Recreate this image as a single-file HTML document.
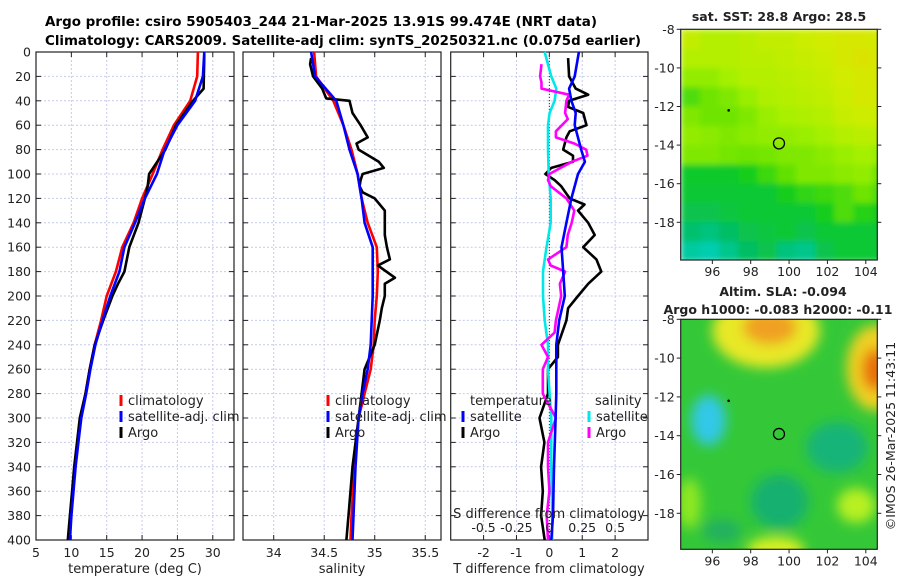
<!DOCTYPE html>
<html><head><meta charset="utf-8"><style>
html,body{margin:0;padding:0;background:#fff}
svg{display:block;font-family:"DejaVu Sans","Liberation Sans",sans-serif}
</style></head><body>
<svg id="c" width="900" height="580" viewBox="0 0 900 580">
<text x="321" y="26" font-size="13" font-weight="bold" text-anchor="middle" textLength="552" lengthAdjust="spacingAndGlyphs">Argo profile: csiro 5905403_244 21-Mar-2025 13.91S 99.474E (NRT data)</text>
<text x="343" y="45" font-size="13" font-weight="bold" text-anchor="middle" textLength="596" lengthAdjust="spacingAndGlyphs">Climatology: CARS2009. Satellite-adj clim: synTS_20250321.nc (0.075d earlier)</text>
<g id="g"></g>
</svg>
<script>
// ---------- data ----------
const depthTicks=[0,20,40,60,80,100,120,140,160,180,200,220,240,260,280,300,320,340,360,380,400];
const tTicks=[5,10,15,20,25,30];
const sTicks=[34,34.5,35,35.5];
const dTTicks=[-2,-1,0,1,2];
const dSTicks=[-0.5,-0.25,0,0.25,0.5];
const dSTickLabels=["-0.5","-0.25","0","0.25","0.5"];
// temperature
const tClimDepth=[0,20,40,60,80,100,120,140,160,180,200,220,240,260,280,300,320,340,360,380,400];
const tClim=[27.9,27.8,26.8,24.5,22.9,21.5,20.0,18.8,17.2,16.3,15.0,14.2,13.3,12.6,12.0,11.3,10.9,10.5,10.2,9.9,9.6];
const tSat=[28.8,28.6,27.5,25.0,23.2,22.1,20.4,19.0,17.5,16.8,15.5,14.4,13.4,12.7,12.1,11.4,11.0,10.6,10.3,10.0,9.8];
const tArgoDepth=[2,30,40,50,60,80,100,110,120,140,160,180,190,200,220,240,260,280,300,320,340,360,380,400];
const tArgo=[28.8,28.7,27.2,26.0,24.8,23.3,21.0,20.8,20.4,19.5,18.2,17.5,16.6,15.8,14.5,13.3,12.6,12.0,11.2,10.8,10.4,10.1,9.8,9.5];
// salinity
const sClimDepth=[0,20,40,60,80,100,120,140,160,180,200,220,240,260,280,300,340,380,400];
const sClim=[34.40,34.42,34.59,34.69,34.77,34.83,34.87,34.93,35.02,35.03,35.02,35.00,34.99,34.96,34.90,34.84,34.80,34.77,34.76];
const sSat=[34.37,34.41,34.62,34.69,34.75,34.83,34.87,34.90,34.98,34.98,34.98,34.97,34.96,34.93,34.88,34.84,34.81,34.79,34.78];
const sArgoDepth=[5,10,20,30,38,40,50,60,70,75,80,90,95,100,105,110,115,120,130,140,150,160,170,175,185,190,200,210,220,240,260,280,300,340,380,400];
const sArgo=[34.37,34.36,34.39,34.48,34.52,34.75,34.78,34.86,34.93,34.82,34.84,35.04,35.09,34.88,34.86,34.85,34.88,35.00,35.10,35.10,35.10,35.12,35.15,35.03,35.20,35.10,35.10,35.07,35.05,35.00,34.90,34.87,34.84,34.78,34.74,34.72];
// differences from climatology
const dTSatDepth=[0,20,30,40,50,60,80,90,100,120,140,160,180,200,220,240,260,280,300,340,380,400];
const dTSat=[0.90,0.77,0.60,0.67,0.80,0.77,0.97,1.08,0.87,0.67,0.52,0.37,0.42,0.47,0.30,0.21,0.21,0.21,0.19,0.14,0.11,0.06];
const dTArgoDepth=[5,20,30,35,40,45,50,60,65,70,80,85,90,95,100,105,110,120,125,130,140,150,160,170,180,190,200,210,220,240,250,260,280,300,320,340,360,380,400];
const dTArgo=[0.57,0.60,0.80,1.18,0.60,0.57,1.03,1.13,0.62,0.52,0.42,0.72,0.72,0.06,-0.12,0.16,0.36,0.62,1.07,0.87,1.18,1.38,1.03,1.43,1.58,1.18,0.87,0.57,0.52,0.26,0.26,-0.04,-0.04,-0.30,-0.15,-0.25,-0.20,-0.25,-0.14];
const dSSatDepth=[0,20,30,40,50,60,80,100,120,140,160,180,200,220,240,260,280,300,340,380,400];
const dSSat=[-0.036,0.015,0.053,0.040,0.002,-0.010,-0.010,-0.005,0.010,0.010,-0.022,-0.048,-0.048,-0.035,-0.010,-0.010,0.002,0.015,0.015,0.022,0.022];
const dSArgoDepth=[10,20,25,30,35,40,50,55,65,70,75,80,85,90,100,105,110,120,130,140,150,160,170,175,180,190,200,210,220,230,240,250,260,280,300,320,340,360,380,400];
const dSArgo=[-0.06,-0.07,-0.06,-0.06,0.15,0.13,0.12,0.14,0.05,0.05,0.19,0.28,0.29,0.17,0.00,-0.01,0.01,0.13,0.19,0.17,0.14,0.13,-0.01,0.01,0.12,0.08,0.09,0.07,0.05,0.04,-0.06,-0.01,-0.05,-0.05,0.05,-0.01,-0.01,0.00,-0.02,-0.01];
// SST map (value 0 = cyan ... 1 = orange), rows from -8 south, columns from 94.35 east, 1 degree cells
const sstRows=[
[0.75,0.70,0.70,0.72,0.75,0.75,0.78,0.80,0.82,0.82,0.80],
[0.70,0.70,0.70,0.72,0.72,0.74,0.76,0.78,0.82,0.85,0.82],
[0.60,0.60,0.65,0.70,0.70,0.72,0.74,0.76,0.80,0.82,0.82],
[0.45,0.50,0.55,0.62,0.68,0.70,0.72,0.74,0.78,0.82,0.80],
[0.55,0.50,0.50,0.55,0.62,0.66,0.68,0.70,0.76,0.78,0.78],
[0.60,0.58,0.55,0.58,0.60,0.60,0.62,0.65,0.70,0.72,0.72],
[0.55,0.55,0.52,0.50,0.52,0.55,0.55,0.58,0.62,0.65,0.62],
[0.32,0.32,0.32,0.35,0.42,0.48,0.55,0.55,0.58,0.60,0.50],
[0.30,0.30,0.30,0.30,0.30,0.35,0.40,0.42,0.45,0.50,0.45],
[0.25,0.25,0.28,0.30,0.30,0.30,0.30,0.35,0.45,0.38,0.35],
[0.18,0.15,0.20,0.25,0.28,0.30,0.25,0.30,0.30,0.30,0.30],
[0.08,0.05,0.12,0.20,0.25,0.15,0.12,0.25,0.30,0.30,0.30]];
const lonTicks=[96,98,100,102,104];
const latTicks=[-8,-10,-12,-14,-16,-18];
const argoLon=99.474, argoLat=-13.91;
// SLA blobs: lon, lat, rx(deg), ry(deg), colour
const slaLon=[98.8,99.0,104.5,104.5,95.8,102.5,99.5,99.3,103.5,94.8,96.5];
const slaLat=[-8.6,-8.4,-10.5,-10.6,-13.2,-14.6,-17.4,-19.9,-17.6,-17.5,-18.9];
const slaRx=[2.8,1.4,1.5,0.7,0.9,1.6,1.5,1.5,1.0,0.6,1.0];
const slaRy=[1.9,0.9,2.2,1.1,1.3,1.3,1.4,0.7,0.9,1.3,0.6];
const slaCol=["#e8e828","#f0a020","#f0d020","#e87010","#30c8e8","#12b478","#14b070","#d8f020","#b8f020","#90e820","#20b060"];

// ---------- drawing ----------
const NS="http://www.w3.org/2000/svg";
const G=document.getElementById('g');
function mk(tag,at,parent){const e=document.createElementNS(NS,tag);for(const k in at)e.setAttribute(k,at[k]);(parent||G).appendChild(e);return e;}
const top0=52, bot0=540;
const yD=d=>top0+d*(bot0-top0)/400;

function panel(x0,x1,xmin,xmax,xticks,name){
  const sx=v=>x0+(v-xmin)*(x1-x0)/(xmax-xmin);
  const g=mk('g',{});
  
  
  xticks.forEach(v=>{const l=mk('line',{x1:sx(v),x2:sx(v),y1:top0,y2:bot0,stroke:'#c4cbeb','stroke-width':1,'stroke-dasharray':'2,2'},g);
    
    mk('line',{x1:sx(v),x2:sx(v),y1:bot0,y2:bot0-5,stroke:'#222'},g);mk('line',{x1:sx(v),x2:sx(v),y1:top0,y2:top0+5,stroke:'#222'},g);});
  depthTicks.forEach(d=>{if(d>0&&d<400){const l=mk('line',{x1:x0,x2:x1,y1:yD(d),y2:yD(d),stroke:'#c4cbeb','stroke-width':1,'stroke-dasharray':'2,2'},g);
    }
    mk('line',{x1:x0,x2:x0+5,y1:yD(d),y2:yD(d),stroke:'#222'},g);mk('line',{x1:x1,x2:x1-5,y1:yD(d),y2:yD(d),stroke:'#222'},g);});
  const f=mk('rect',{x:x0,y:top0,width:x1-x0,height:bot0-top0,fill:'none',stroke:'#222','stroke-width':1.2},g);
  
  return {sx,g};
}
function line(p,vals,depths,col,name,w){
  const pts=vals.map((v,i)=>p.sx(v).toFixed(1)+','+yD(depths[i]).toFixed(1)).join(' ');
  const e=mk('polyline',{points:pts,fill:'none',stroke:col,'stroke-width':w||2.6,'stroke-linejoin':'round'},p.g);
  
  
}
function txt(x,y,s,at,parent){const e=mk('text',Object.assign({x:x,y:y,'font-size':12.5,fill:'#222'},at||{}),parent);e.textContent=s;return e;}

// panel 1 temperature
const P1=panel(36,234,5,33,tTicks,'temperature');
depthTicks.forEach(d=>{const t=txt(31,yD(d)+4.5,String(d),{'text-anchor':'end'});});
tTicks.forEach(v=>{const t=txt(P1.sx(v),557,String(v),{'text-anchor':'middle'});});
line(P1,tClim,tClimDepth,'#ff0000','temp-climatology-line');
line(P1,tArgo,tArgoDepth,'#000000','temp-argo-line');
line(P1,tSat,tClimDepth,'#0000ff','temp-satellite-line');
let t=txt(135,573,'temperature (deg C)',{'text-anchor':'middle','font-size':13});

// panel 2 salinity
const P2=panel(243,441,33.696,35.656,sTicks,'salinity');
sTicks.forEach(v=>{const t=txt(P2.sx(v),557,String(v),{'text-anchor':'middle'});});
line(P2,sClim,sClimDepth,'#ff0000','sal-climatology-line');
line(P2,sArgo,sArgoDepth,'#000000','sal-argo-line');
line(P2,sSat,sClimDepth,'#0000ff','sal-satellite-line');
t=txt(342,573,'salinity',{'text-anchor':'middle','font-size':13});

// panel 3 differences
const P3=panel(450.7,648,-3,3,dTTicks,'difference');
const sxS=v=>P3.sx(v*4);
const z=mk('line',{x1:P3.sx(0),x2:P3.sx(0),y1:top0,y2:bot0,stroke:'#333','stroke-width':1,'stroke-dasharray':'1,2'},P3.g);

dTTicks.forEach(v=>{const t=txt(P3.sx(v),557,String(v),{'text-anchor':'middle'});});
line(P3,dTArgo,dTArgoDepth,'#000000','dT-argo-line');
line(P3,dSSat.map(v=>v*4),dSSatDepth,'#00e8e8','dS-satellite-line');
line(P3,dSArgo.map(v=>v*4),dSArgoDepth,'#ff00ff','dS-argo-line');
line(P3,dTSat,dTSatDepth,'#0000ff','dT-satellite-line');
t=txt(549,573,'T difference from climatology',{'text-anchor':'middle','font-size':13});
t=txt(549,518,'S difference from climatology',{'text-anchor':'middle','font-size':13});
dSTicks.forEach((v,i)=>{const t=txt(sxS(v),532,dSTickLabels[i],{'text-anchor':'middle'});});

// legends
function legItem(x,y,col,label,name){
  const g=mk('g',{});
  
  
  mk('line',{x1:x,x2:x,y1:y-10,y2:y+1,stroke:col,'stroke-width':3},g);
  txt(x+7,y,label,{'font-size':13},g);
}
legItem(121,405,'#ff0000','climatology','legend-climatology');
legItem(121,421,'#0000ff','satellite-adj. clim','legend-satellite-adj');
legItem(121,437,'#000000','Argo','legend-argo');
legItem(328,405,'#ff0000','climatology','legend-climatology-sal');
legItem(328,421,'#0000ff','satellite-adj. clim','legend-satellite-adj-sal');
legItem(328,437,'#000000','Argo','legend-argo-sal');
t=txt(470,405,'temperature',{'font-size':13});
t=txt(595,405,'salinity',{'font-size':13});
legItem(463,421,'#0000ff','satellite','legend-t-satellite');
legItem(463,437,'#000000','Argo','legend-t-argo');
legItem(589,421,'#00e8e8','satellite','legend-s-satellite');
legItem(589,437,'#ff00ff','Argo','legend-s-argo');

// ---------- maps ----------
const mx0=680.7,mx1=877.3,lon0=94.35,lon1=104.6;
const mlon=v=>mx0+(v-lon0)*(mx1-mx0)/(lon1-lon0);
function mapFrame(y0,yM8,pxDeg,y1,name){
  const mlat=v=>y0+( -8 - v)*pxDeg + (yM8-y0);
  return {mlat,y0,y1,name};
}
const stops=[[0,[0,210,200]],[0.2,[0,190,100]],[0.35,[20,205,30]],[0.5,[110,228,0]],[0.65,[165,240,0]],[0.8,[210,236,0]],[1,[240,200,10]]];
function cmap(v){for(let i=1;i<stops.length;i++){if(v<=stops[i][0]){const a=stops[i-1],b=stops[i],f=(v-a[0])/(b[0]-a[0]);return 'rgb('+a[1].map((c,k)=>Math.round(c+(b[1][k]-c)*f)).join(',')+')';}}return 'rgb(240,200,10)';}
function axes(M){
  lonTicks.forEach(v=>{mk('line',{x1:mlon(v),x2:mlon(v),y1:M.y1,y2:M.y1+4,stroke:'#222'});
    const t=txt(mlon(v),M.y1+16,String(v),{'text-anchor':'middle'});});
  latTicks.forEach(v=>{mk('line',{x1:mx0-4,x2:mx0,y1:M.mlat(v),y2:M.mlat(v),stroke:'#222'});mk('line',{x1:mx1,x2:mx1+4,y1:M.mlat(v),y2:M.mlat(v),stroke:'#222'});
    const t=txt(mx0-6,M.mlat(v)+4.5,String(v),{'text-anchor':'end'});});
  const f=mk('rect',{x:mx0,y:M.y0,width:mx1-mx0,height:M.y1-M.y0,fill:'none',stroke:'#222','stroke-width':1.2});
  
  const c=mk('circle',{cx:mlon(argoLon),cy:M.mlat(argoLat),r:5.5,fill:'none',stroke:'#000','stroke-width':1.3});
  
  mk('circle',{cx:mlon(96.85),cy:M.mlat(-12.2),r:1.3,fill:'#000'});
}
const defs=mk('defs',{});
const cp1=mk('clipPath',{id:'cp1'},defs);mk('rect',{x:mx0,y:29.3,width:mx1-mx0,height:230.7},cp1);
const cp2=mk('clipPath',{id:'cp2'},defs);mk('rect',{x:mx0,y:319.3,width:mx1-mx0,height:230},cp2);
const fb=mk('filter',{id:'blur',x:'-50%',y:'-50%',width:'200%',height:'200%'},defs);mk('feGaussianBlur',{stdDeviation:6},fb);
const fb2=mk('filter',{id:'blur2',x:'-10%',y:'-10%',width:'120%',height:'120%'},defs);mk('feGaussianBlur',{stdDeviation:3},fb2);

// SST map
const M1=mapFrame(29.3,29.3,19.3,260,'sst-map');
const g1=mk('g',{'clip-path':'url(#cp1)'});


const g1b=mk('g',{filter:'url(#blur2)'},g1);
sstRows.forEach((row,r)=>row.forEach((v,c)=>{
  const x=mlon(lon0+c),y=M1.mlat(-8-r);
  const e=mk('rect',{x:x,y:y,width:mlon(lon0+c+1)-x+0.5,height:M1.mlat(-9-r)-y+0.5,fill:cmap(v)},g1b);
  
  
}));
axes(M1);
t=txt(779,21,'sat. SST: 28.8 Argo: 28.5',{'text-anchor':'middle','font-weight':'bold','font-size':12.5});

// SLA map
const M2=mapFrame(319.3,319.3,19.4,549.3,'sla-map');
const g2=mk('g',{'clip-path':'url(#cp2)'});


mk('rect',{x:mx0,y:319.3,width:mx1-mx0,height:230,fill:'#34c838'},g2);
const gb=mk('g',{filter:'url(#blur)'},g2);
slaLon.forEach((lo,i)=>{
  const e=mk('ellipse',{cx:mlon(lo),cy:M2.mlat(slaLat[i]),rx:slaRx[i]*19.2,ry:slaRy[i]*19.4,fill:slaCol[i]},gb);
  
  
});
axes(M2);
t=txt(783,296,'Altim. SLA: -0.094',{'text-anchor':'middle','font-weight':'bold','font-size':12.5});
t=txt(778,314,'Argo h1000: -0.083 h2000: -0.11',{'text-anchor':'middle','font-weight':'bold','font-size':12.5});
t=txt(895,436,'©IMOS 26-Mar-2025 11:43:11',{'text-anchor':'middle','font-size':12.5,transform:'rotate(-90 895 436)'});
</script>
</body></html>
